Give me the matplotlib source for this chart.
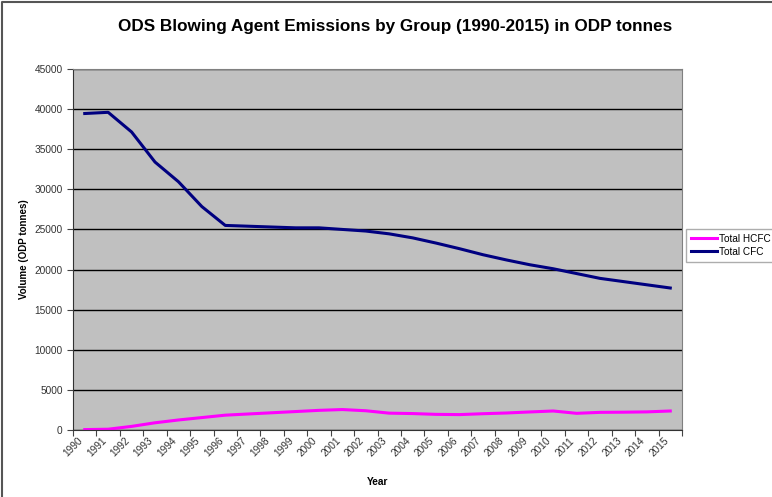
import matplotlib
matplotlib.use("Agg")
import matplotlib.pyplot as plt
from matplotlib.lines import Line2D
import numpy as np

plt.rcParams['font.family'] = ['Liberation Sans', 'DejaVu Sans']

years = [str(y) for y in range(1990, 2016)]
total_hcfc = [50, 100, 450, 900, 1250, 1550, 1850, 2000, 2150, 2300, 2450, 2550,
              2400, 2100, 2050, 1950, 1920, 2030, 2120, 2250, 2370, 2080, 2200,
              2220, 2260, 2370]
total_cfc = [39450, 39600, 37150, 33400, 30950, 27850, 25500, 25400, 25300,
             25200, 25200, 25000, 24800, 24450, 23950, 23300, 22600, 21850,
             21200, 20600, 20100, 19500, 18900, 18500, 18100, 17700]

fig = plt.figure(figsize=(7.72, 4.97), dpi=100)
# chart frame (top and left edges)
fig.lines.append(Line2D([0.003, 0.003, 1.0], [0.0, 0.995, 0.995], transform=fig.transFigure,
                        color='#555555', linewidth=1.5))
ax = fig.add_axes([0.0946, 0.1348, 0.7888, 0.7264])
ax.set_facecolor('#C0C0C0')

x = np.arange(len(years))
l1, = ax.plot(x, total_hcfc, color='#FF00FF', linewidth=2.2, label='Total HCFC')
l2, = ax.plot(x, total_cfc, color='#000080', linewidth=2.2, label='Total CFC')

ax.set_xlim(-0.5, len(years) - 0.5)
ax.set_ylim(0, 45000)
ax.set_yticks(np.arange(0, 45001, 5000))
ax.yaxis.grid(True, color='black', linewidth=1)
ax.set_axisbelow(True)
ax.tick_params(axis='y', labelsize=7.3, direction='out', length=4, color='#444444', colors='#333333')

ax.set_xticks(np.arange(-0.5, len(years), 1.0))
ax.set_xticklabels([])
ax.tick_params(axis='x', which='major', direction='out', length=4, color='#444444')
ax.set_xticks(x, minor=True)
ax.set_xticklabels(years, minor=True, rotation=45, ha='right', va='top', fontsize=7.3,
                   color='#333333')
ax.tick_params(axis='x', which='minor', length=0, pad=4)

for side in ['top', 'right']:
    ax.spines[side].set_color('#808080')
for side in ['left', 'bottom']:
    ax.spines[side].set_color('#333333')

ax.set_ylabel('Volume (ODP tonnes)', fontsize=7, fontweight='bold')
ax.yaxis.set_label_coords(-0.073, 0.5)
ax.set_xlabel('Year', fontsize=7.3, fontweight='bold')
ax.xaxis.set_label_coords(0.5, -0.13)

fig.suptitle('ODS Blowing Agent Emissions by Group (1990-2015) in ODP tonnes',
             fontsize=12.3, fontweight='bold', x=0.512, y=0.962)

fig.legend(handles=[l1, l2], loc='upper left', bbox_to_anchor=(0.889, 0.54),
           fontsize=7.2, frameon=True, fancybox=False, edgecolor='#999999',
           handlelength=2.6, handletextpad=0.15, borderpad=0.5, labelspacing=0.3,
           borderaxespad=0)

fig.savefig('out.png', dpi=100)
